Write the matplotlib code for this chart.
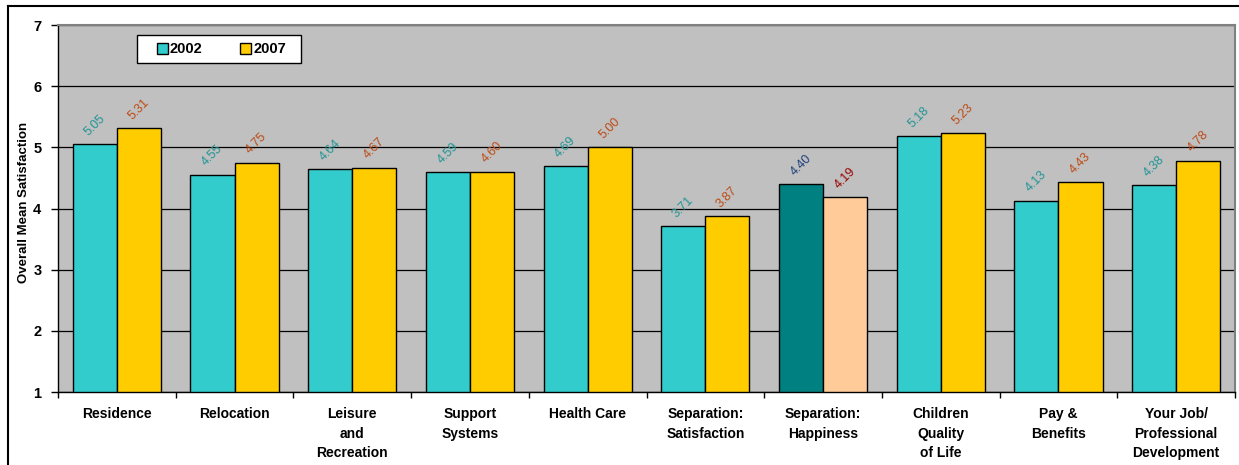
import matplotlib
matplotlib.use("Agg")
import matplotlib.pyplot as plt
import numpy as np
from matplotlib.lines import Line2D
from matplotlib.patches import Rectangle

categories = ["Residence", "Relocation", "Leisure\nand\nRecreation", "Support\nSystems",
              "Health Care", "Separation:\nSatisfaction", "Separation:\nHappiness",
              "Children\nQuality\nof Life", "Pay &\nBenefits", "Your Job/\nProfessional\nDevelopment"]
vals_2002 = [5.05, 4.55, 4.64, 4.59, 4.69, 3.71, 4.40, 5.18, 4.13, 4.38]
vals_2007 = [5.31, 4.75, 4.67, 4.60, 5.00, 3.87, 4.19, 5.23, 4.43, 4.78]
series_names = ["2002", "2007"]

c02, c07 = "#33CCCC", "#FFCC00"
c02_hi, c07_hi = "#008080", "#FFCC99"
lab02, lab07 = "#209494", "#BC4A14"
lab02_hi, lab07_hi = "#1F3F7A", "#990000"
highlight = 6

plt.rcParams['font.family'] = ['Liberation Sans', 'DejaVu Sans']

W, H = 1239, 465
fig = plt.figure(figsize=(W/100, H/100), dpi=100)
ax = fig.add_axes([58/W, 1-392/H, (1235-58)/W, (392-25)/H])
ax.set_facecolor("#C0C0C0")

x = np.arange(len(categories))
w = 0.375
cols02 = [c02_hi if i == highlight else c02 for i in range(len(x))]
cols07 = [c07_hi if i == highlight else c07 for i in range(len(x))]
ax.bar(x - w/2, np.array(vals_2002) - 1, w, bottom=1, color=cols02, edgecolor="black", linewidth=1.0, zorder=3)
ax.bar(x + w/2, np.array(vals_2007) - 1, w, bottom=1, color=cols07, edgecolor="black", linewidth=1.0, zorder=3)

for i in range(len(x)):
    ax.annotate(f"{vals_2002[i]:.2f}", (x[i] - w/2, vals_2002[i]), xytext=(0, 4.5), textcoords="offset points",
                ha="center", va="bottom", rotation=45, fontsize=9,
                color=lab02_hi if i == highlight else lab02, zorder=4)
    ax.annotate(f"{vals_2007[i]:.2f}", (x[i] + w/2, vals_2007[i]), xytext=(0, 4.5), textcoords="offset points",
                ha="center", va="bottom", rotation=45, fontsize=9,
                color=lab07_hi if i == highlight else lab07, zorder=4)

ax.set_ylim(1, 7)
ax.set_xlim(-0.5, len(categories) - 0.5)
ax.set_yticks(range(1, 8))
ax.set_yticklabels([str(v) for v in range(1, 8)], fontsize=10.5, fontweight="bold")
ax.yaxis.grid(True, color="black", linewidth=0.9, zorder=1)
ax.set_axisbelow(True)
ax.tick_params(axis="y", length=5, width=1, pad=7)

ax.set_xticks(np.arange(-0.5, len(categories) - 0.4, 1.0))
ax.set_xticklabels([])
ax.tick_params(axis="x", length=4, width=1, direction="out")
ax.set_xticks(x, minor=True)
ax.set_xticklabels(categories, minor=True, fontsize=10, fontweight="bold", linespacing=1.5, va="top")
ax.tick_params(axis="x", which="minor", length=0, pad=11)

for s in ["top", "right"]:
    ax.spines[s].set_color("#808080")
    ax.spines[s].set_linewidth(1.5)
for s in ["left", "bottom"]:
    ax.spines[s].set_color("black")
    ax.spines[s].set_linewidth(1.0)

ax.set_ylabel("Overall Mean Satisfaction", fontsize=9.5, fontweight="bold")
ax.yaxis.set_label_coords(-28/1177, 0.516)

# legend box
def fx(px): return px / W
def fy(py): return 1 - py / H
fig.add_artist(Rectangle((fx(137), fy(63)), fx(301) - fx(137), fy(35) - fy(63), transform=fig.transFigure,
                         facecolor="white", edgecolor="black", linewidth=1.0, zorder=5))
for (mx, tx), name, col in zip([(157, 170), (240, 254)], series_names, [c02, c07]):
    fig.add_artist(Rectangle((fx(mx), fy(54)), fx(11), 11/H, transform=fig.transFigure,
                             facecolor=col, edgecolor="black", linewidth=1.0, zorder=6))
    fig.text(fx(tx), fy(49), name, ha="left", va="center", fontsize=10.5, fontweight="bold", zorder=6)

fig.add_artist(Line2D([8/W, 8/W], [0, 1-6/H], transform=fig.transFigure, color="black", linewidth=1.5))
fig.add_artist(Line2D([8/W, 1], [1-6/H, 1-6/H], transform=fig.transFigure, color="black", linewidth=1.5))

fig.savefig("out.png", dpi=100)
